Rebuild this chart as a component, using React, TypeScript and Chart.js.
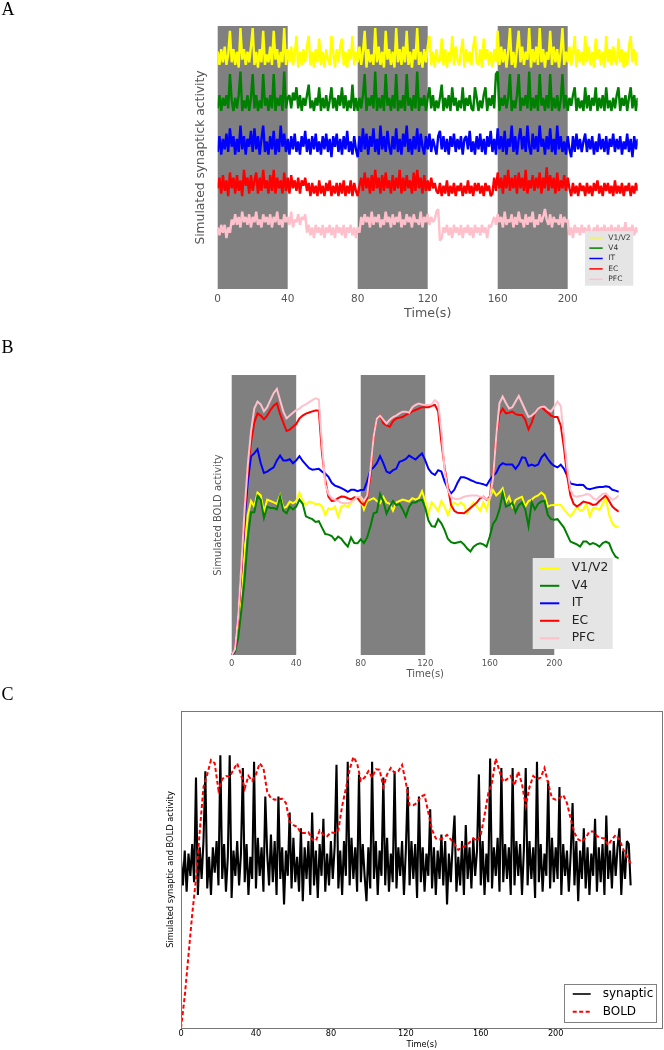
import React, { useEffect, useRef } from "react";
import { Chart, registerables } from "chart.js";
Chart.register(...registerables);

// ---------------- data ----------------
const REGIONS = ["V1/V2", "V4", "IT", "EC", "PFC"];
const REGION_COLORS = ["#ffff00", "#008000", "#0000ff", "#ff0000", "#ffc0cb"];
const STIM_BLOCKS = [[0, 40], [80, 120], [160, 200]];
const TIME_TICKS = [0, 40, 80, 120, 160, 200];
const SYN_DT = 1; // s between synaptic samples
const BOLD_DT = 2; // s between BOLD samples

// Panel A: synaptic traces (deviation) and their vertical offsets
const SYN_OFFSETS = [88.2, 70.7, 55.1, 38.3, 22.4];
const SYN_V1 = [
  2,-3,3,-2,4,-3,1,10,-2,3, -3,2,-4,11,-1,3,-3,2,-2,4, 11,-3,2,-4,3,-2,10,-3,1,-2, 4,-3,10,-1,3,-4,2,-2,11,-3,
  3,-2,4,-3,1,8,-4,2,-3,3, -2,4,8,-3,2,-4,3,-2,7,-3, 2,-4,3,-1,-3,8,2,-4,3,-2, 4,7,-3,2,-4,3,-1,8,-3,2,
  -2,4,-3,2,10,-4,3,-2,1,-3, 11,-2,4,-3,2,-4,10,-1,3,-3, 2,-4,11,-2,3,-3,4,-2,10,-3, 2,-4,3,-1,11,-3,2,-4,3,-2,
  4,8,-3,2,-4,3,-2,-1,7,-3, 3,-4,2,-2,8,-3,4,-1,-3,2, 7,-4,3,-2,2,-3,4,8,-2,-3, 3,-4,7,-1,3,-3,2,-4,3,-2,
  10,-3,4,-2,3,-4,2,11,-3,2, -4,3,10,-2,4,-3,2,-1,11,-4, 3,-2,4,-3,11,-2,3,-4,2,-1, 10,-3,4,-2,3,-4,2,11,-3,2,
  -2,4,-3,1,8,-4,3,-2,2,-3, 8,-2,4,-3,2,-4,7,-1,3,-3, 2,-4,8,-2,3,-3,4,-1,-3,7, -2,3,-4,2,-3,4,8,-2,3,-3,
  2,
];
const SYN_V4 = [
  -2,3,-3,2,-1,3,-2,11,1,-3, 2,-2,3,12,-3,1,-2,3,-3,2, 11,-2,3,-3,1,-2,11,-1,2,-3, 3,-2,11,-3,2,-1,3,-3,12,-2,
  2,3,-2,4,1,6,-2,3,-3,2, -1,3,7,-2,1,-3,2,-1,6,-3, 2,-2,3,-3,1,6,-2,2,-3,3, -1,6,-2,3,-3,1,-2,7,-3,2,
  -3,2,-2,3,11,-3,2,-1,3,-2, 12,-3,2,-2,3,-3,11,-1,2,-3, 3,-2,11,-3,1,-2,3,-3,11,-1, 2,-3,3,-2,12,-3,2,-1,3,-3,
  2,6,-2,3,-3,1,-2,2,7,-3, 2,-2,3,-3,6,-1,2,-3,1,-2, 6,-3,2,-1,3,-2,-3,6,2,-3, 1,-2,3,6,-3,2,-1,3,-2,11,
  12,-3,2,-1,3,-2,2,11,-3,1, -2,3,11,-3,2,-1,3,-2,12,-3, 2,-2,3,-3,11,-1,2,-3,3,-2, 11,-3,2,-2,3,-3,1,11,-2,3,
  -3,2,-1,3,6,-3,2,-2,1,-3, 6,-2,3,-3,2,-1,6,-3,2,-2, 3,-3,6,-2,1,-3,2,-2,3,6, -3,2,-1,3,-3,2,6,-2,3,-3,
  2,
];
const SYN_IT = [
  -3,3,-4,2,-2,4,-3,6,-1,3, -4,2,-3,7,-2,3,-4,2,-1,5, -3,6,-2,3,-4,2,7,-3,1,-4, 3,-2,5,-4,2,-3,7,-1,4,-3,
  2,-4,3,-2,4,-3,1,-4,3,-1, 5,-3,2,-4,3,-2,4,-3,1,-4, 3,-2,4,-3,2,-5,3,-1,4,-3, 2,-4,3,-2,5,-3,1,-4,3,-2,
  -5,3,-3,6,-2,4,-4,3,-1,6, -3,2,-4,7,-2,3,-3,5,-1,-4, 3,-2,6,-3,2,-4,4,-1,7,-3, 2,-4,3,-2,6,-3,4,-1,-4,3,
  -2,4,-3,2,-1,-4,3,5,-2,3, -3,2,-4,3,-1,4,-3,2,-2,3, -4,2,3,-2,5,-3,1,-4,3,-2, 4,-3,2,-4,3,-1,5,-3,2,-4,
  6,-2,3,-3,5,-4,2,-1,7,-3, 3,-4,2,6,-2,3,-3,7,-1,-4, 4,-2,3,-3,7,-1,2,-4,3,-2, 6,-3,2,-4,7,-2,3,-3,1,-4,
  3,-2,-5,3,-3,4,-2,2,-3,1, 4,-3,2,-2,3,-4,1,-3,4,-2, 2,-3,3,-4,2,-1,4,-3,2,-2, 3,-4,1,-2,4,-3,2,-5,3,-2,
  2,
];
const SYN_EC = [
  0,4,-2,5,-1,3,-3,6,0,4, -2,5,-1,3,-3,7,1,4,-2,5, -1,3,6,-2,4,-1,7,0,3,-2, 5,-1,7,-2,4,0,3,-2,6,-1,
  4,-2,5,0,3,-1,4,-2,3,1, 4,-1,2,-3,2,-2,1,-3,3,-2, 1,-3,2,-1,3,-3,1,-2,2,-3, 2,-2,3,-3,1,-2,3,-3,2,-1,
  -3,1,4,-1,6,0,4,-2,5,-1, 7,0,4,-2,5,-1,6,0,3,-2, 5,-1,4,0,7,-2,4,-1,5,0, 3,-2,6,-1,7,0,4,-2,5,-1,
  3,-1,4,0,2,-1,-2,2,-3,1, -2,3,-3,1,-2,2,-3,1,-1,2, -3,1,-2,3,-2,1,-3,2,-1,2, -2,1,-3,2,-1,1,-3,-2,4,-1,
  6,0,4,-2,5,0,7,-1,4,0, 5,-2,6,0,4,-1,7,-2,3,0, 5,-1,4,0,6,-2,4,0,8,-1, 5,0,4,-2,6,-1,3,0,5,-1,
  4,0,-3,2,-2,1,-3,2,-1,1, -3,2,-2,1,-3,2,-1,3,-2,1, -3,2,-1,2,-2,1,-3,3,-2,1, -2,2,-3,1,-1,2,-3,1,-2,2,
  -1,
];
const SYN_PFC = [
  1,-2,2,-1,2,-3,1,-1,4,2, 6,2,5,1,7,3,5,2,6,1, 5,3,7,2,4,1,6,3,5,2, 6,1,5,3,7,2,4,1,6,3,
  5,2,7,1,4,3,6,2,5,4, 6,-1,2,-2,1,-3,2,-1,1,-2, 2,-3,1,-1,2,-2,1,-3,2,-1, 1,-2,2,-3,1,-1,2,-2,1,-3,
  1,-1,5,2,6,3,5,1,7,2, 5,3,6,1,4,2,7,3,5,1, 6,2,5,3,7,1,4,2,6,3, 5,1,6,3,4,2,7,1,5,3,
  6,2,5,3,4,7,8,-4,-3,1, -1,2,-2,1,-3,2,-1,1,-2,2, -3,1,-1,2,-2,1,-3,2,-1,1, -2,2,-1,1,-3,2,1,3,5,2,
  6,3,5,1,7,2,4,3,6,1, 5,2,7,3,4,1,6,2,5,3, 7,1,4,2,6,3,5,8,4,2, 6,1,5,3,4,2,6,1,5,3,
  4,-2,1,-3,2,-1,1,-2,2,-1, 1,-3,2,-1,-2,1,-1,2,-3,1, -1,2,-2,1,-1,2,-3,1,-1,2, -2,1,-1,3,-2,1,-1,2,-2,1,
  -1,
];
const SYN_SERIES = [SYN_V1, SYN_V4, SYN_IT, SYN_EC, SYN_PFC];

// Panel B: BOLD responses (every 2 s)
const BOLD_V1 = [
  0,2,10,24,38,50,55,53,58,57, 51,55.5,55,54.5,54,57,52.5,53,54.8,54.2,
  55,58,55,53.6,54.8,54.5,53.8,54,53,50, 52.4,52,53,49.4,53,53.5,52.8,54.5,55.5,56,
  55.5,52,55,55.5,56,55,54.2,56.5,54.5,54, 51.5,54.5,55,55.5,55.2,54.8,56,55.5,56,58.5,
  55,50.6,54.5,53,51.5,55,53,50,53,54.5, 53.5,54.5,53.5,50.6,53,54.5,53,51.5,54.5,51.8,
  56,58.9,57,58,59.5,54.5,56.5,53,55.4,56, 56.5,53,55,55.5,56.5,57,58,57,53,53.5,
  53.6,53.6,53.6,52,50.6,49.5,51,53,51.5,52, 54,49.5,52.5,52.5,51.8,54,56,50,47,45.8,
  45.8,
];
const BOLD_V4 = [
  0,1,6,16,27,42,51,51,56.8,55.5, 49,53,52.5,52.5,52,56.5,51.5,50.6,53,52,
  53,55.5,54,49.5,49,48.5,47.5,47.8,45.5,43.2, 43,42.5,41,42.3,41.5,40,38.7,42,40,39.9,
  41.3,40,42,46,50.6,51,57.5,54.8,50.5,53, 55,53.5,54,52,49.5,53,54.5,54.5,55.2,55.5,
  52.5,48,46,45.8,48.5,47,44.6,41.5,40.3,39.9, 40.2,40.5,39.5,38,37,38.7,39.5,39.9,39.5,38.7,
  42.3,46.8,48.5,52,57.7,53,53.5,54.5,51,53.5, 54.5,52,46,54.5,52,54,54.8,55,50,48.5,
  48.3,48.5,47,45.5,43,40.5,40,39.5,38.7,40.5, 40.5,39.5,40,39.5,38.7,40,40.5,39.9,37,35.1,
  34.5,
];
const BOLD_IT = [
  0,2,14,30,48,62,71,72,73.5,68.5, 65,65.5,66.3,67,69.5,71.2,69.5,69.5,69.9,68.5,
  69.5,71,69.3,68,66.7,66.2,66.3,66.5,65.5,64.8, 63.6,61.5,60.5,60.1,59.6,59,58.3,59,59,58.5,
  58.9,59,62,66,67,68.5,71,68.5,65.5,65, 66,66.5,69,69.4,70,71.2,70.5,69.8,71,72,
  69.5,66.5,65,64.3,66,65.5,62,59.5,57.7,59, 61.5,63.5,63.5,63.1,62.5,62,61.5,61.3,61,60.5,
  62.5,64,65,67.5,68.5,68,68,68,66.5,68, 70.6,70.4,67.5,68,67.5,68,70.5,71.8,70,68.5,
  67.5,67,68,66.5,64,61.3,61,60.7,60.8,60.7, 59.5,59.2,59.5,59.8,60,60,60.3,60,59,58.7,
  58.3,
];
const BOLD_EC = [
  0,2,13,30,50,66,76,83,86.3,85.5, 84.2,85.5,87.5,89,89.9,86,83,80,80.5,81.5,
  82.5,84.5,85.5,86.2,86.6,87,87.3,87.3,72,62.5, 56.5,55,55.2,56,56.6,56.5,56,55.6,56.3,56,
  54.5,53.5,56,64,78,84.5,85.5,82.7,82,81.5, 83.5,84.5,84.7,85,85.8,86.3,87,87.5,88,88.5,
  88.5,88.5,89,89.3,87,76,67,60,53.5,51.5, 50.8,50.7,50.6,51.5,52.5,53.5,54.5,56,56.5,55.4,
  56.5,64,78,86,88,86.3,86.5,86.9,86,85.7, 85.7,84,80.6,83,86.5,88,88.7,87.5,86.5,85.5,
  85,85,82,74,64,57,54,53,53.8,54.8, 54.5,54.2,53.6,53.8,55,56,57,55,53,52,
  51.2,
];
const BOLD_PFC = [
  0,2,14,32,52,68,80,88,90.5,89.5, 87,88.5,91,93.5,95,91,87,84.5,85.5,86.5,
  87.5,88,89,89.5,90.3,91,91.7,91.3,75,61, 57.5,56,55.4,55,54.4,54.2,54.2,54.6,55.5,56.5,
  56.5,55,57,66,78,84.5,85.5,84,82.7,84, 85,85.5,86.3,86.9,86.9,86.5,88.5,89.3,89.8,89.5,
  89.3,89.3,89.5,91,90,80,66,59,56.5,55.8, 55.6,56,56.5,56.8,57,57,57,56.5,56.5,55.5,
  56,63,78,89.9,92.3,90,88,88.5,90.5,92.5, 90,87.5,85,85.5,86.5,88,88.7,88.7,87.5,87,
  88.7,90.5,89,78,67,59,56.8,56.5,56.8,57, 57.5,57.3,56,55.4,56.5,57.5,57.7,56.5,55.4,56,
  57,
];
const BOLD_SERIES = [BOLD_V1, BOLD_V4, BOLD_IT, BOLD_EC, BOLD_PFC];

// Panel C: one synaptic trace and its BOLD response
const SYN_C_BASE = 51;
const SYN_C = [
  2,-6,5,-8,4,-3,7,-5,28,-9, 6,-4,8,30,-7,3,-9,6,-2,8, -6,35,-4,7,-8,3,35,-10,5,-3, 8,-6,4,31,-5,7,-9,3,-4,33,
  -7,9,-3,6,-8,22,4,-6,10,-5, 8,-9,22,-4,6,-12,5,-3,17,-7, 9,-5,3,-8,12,-11,6,-4,8,-9, 17,-6,5,-10,7,-3,15,-8,4,-6,
  8,-4,6,32,-7,5,-9,8,-3,33, -6,9,-4,6,-8,29,-5,7,-3,-11, 6,-7,33,-4,8,-9,5,-3,28,-6, 9,-8,4,-5,30,-7,6,-3,8,-9,
  5,25,-6,8,-4,7,-10,22,-5,6, -8,4,-3,18,-7,6,-9,5,-4,10, -6,8,-12,4,-5,7,16,-8,3,-6, 8,-9,13,-4,6,-7,9,-3,5,29,
  -6,8,-9,4,-5,34,-7,6,-3,9, -8,31,-5,7,-4,6,-9,31,-6,8, -3,7,-9,5,31,-6,8,-4,6,-10, 33,-5,7,-8,4,-3,27,-7,9,-5,
  6,-4,25,-9,7,-3,5,-8,4,20, -6,8,-11,5,-4,12,-7,6,-9,4, -3,15,-8,6,-5,7,-9,16,-4,5, -7,8,-3,6,12,-9,5,-4,8,7,
  -6,
];
const BOLD_C = [
  0,10,23,36,47,62,76,80,84.5,83.5, 75,78.5,79.5,79.3,81.5,83.5,80,75.5,79.5,78,
  80,83.5,82,74.5,72.5,72,72.2,72.3,71,65, 64,63.5,61.5,61.5,61.8,59.5,59,62.3,61,60.5,
  61.7,61.5,62.5,70,75.5,81.5,85.5,83.5,78,79, 81,79,81.6,81.5,76,80,82,80.5,81,83,
  77.5,70.3,70.3,71,73,73.5,68,62.5,59.8,59.5, 60,60.9,59.5,58,56.2,57,57.5,58.5,59.8,59,
  61,67,74,77.5,85,81,77.7,78.5,79.5,76.5, 80.9,77,70,76,79.5,78.5,79,82,77,72.5,
  72,72.5,73.5,71,66,61.5,59.5,58.8,60,62, 62,60.5,60,59.8,57.7,59.5,60.9,59.5,56.5,54,
  52,
];

// ---------------- helpers ----------------
const FF = '"DejaVu Sans", sans-serif';

function bandsPlugin(blocks: number[][], color: string) {
  return {
    id: "bands",
    beforeDatasetsDraw(chart: any) {
      const { ctx, chartArea: a, scales } = chart;
      const x = scales.x;
      ctx.save();
      ctx.fillStyle = color;
      for (const [s, e] of blocks) {
        const x0 = x.getPixelForValue(s);
        const x1 = x.getPixelForValue(e);
        ctx.fillRect(x0, a.top, x1 - x0, a.bottom - a.top);
      }
      ctx.restore();
    },
  };
}

function framePlugin(color: string) {
  return {
    id: "frame",
    afterDatasetsDraw(chart: any) {
      const { ctx, chartArea: a } = chart;
      ctx.save();
      ctx.strokeStyle = color;
      ctx.lineWidth = 1;
      ctx.strokeRect(Math.round(a.left) + 0.5, Math.round(a.top) + 0.5, Math.round(a.right - a.left) - 1, Math.round(a.bottom - a.top));
      ctx.restore();
    },
  };
}

type LegendSpec = {
  w: number; h: number; mr: number; mb: number;
  l0: number; l1: number; tx: number; row0: number; gap: number;
  fontSize: number; textColor: string; fill: string; stroke?: string; lw: number;
};

function legendPlugin(spec: LegendSpec) {
  return {
    id: "boxLegend",
    afterDraw(chart: any) {
      const { ctx, chartArea: a } = chart;
      const bx = a.right - spec.mr - spec.w;
      const by = a.bottom - spec.mb - spec.h;
      ctx.save();
      ctx.fillStyle = spec.fill;
      ctx.fillRect(bx, by, spec.w, spec.h);
      if (spec.stroke) {
        ctx.strokeStyle = spec.stroke;
        ctx.lineWidth = 1;
        ctx.strokeRect(Math.round(bx) + 0.5, Math.round(by) + 0.5, Math.round(spec.w), Math.round(spec.h));
      }
      ctx.font = `${spec.fontSize}px ${FF}`;
      ctx.textBaseline = "middle";
      ctx.textAlign = "left";
      chart.data.datasets.forEach((ds: any, i: number) => {
        const y = by + spec.row0 + i * spec.gap;
        ctx.beginPath();
        ctx.strokeStyle = ds.legendColor || ds.borderColor;
        ctx.lineWidth = spec.lw;
        ctx.setLineDash(ds.borderDash || []);
        ctx.moveTo(bx + spec.l0, y);
        ctx.lineTo(bx + spec.l1, y);
        ctx.stroke();
        ctx.setLineDash([]);
        ctx.fillStyle = spec.textColor;
        ctx.fillText(ds.label, bx + spec.tx, y);
      });
      ctx.restore();
    },
  };
}

type AxisSpec = {
  xMax: number; xHeight: number; tickSize: number; tickPad: number; tickColor: string;
  titleSize: number; titlePadBottom: number; titleColor: string;
  yTitle: string; yTitleSize: number; yTitlePadTop: number; yWidth: number;
};

function makeScales(s: AxisSpec) {
  return {
    x: {
      type: "linear",
      min: 0,
      max: s.xMax,
      grid: { display: false, drawTicks: false },
      border: { display: false },
      afterBuildTicks: (sc: any) => {
        sc.ticks = TIME_TICKS.map((v) => ({ value: v }));
      },
      ticks: {
        font: { family: FF, size: s.tickSize },
        color: s.tickColor,
        padding: s.tickPad,
        maxRotation: 0,
        autoSkip: false,
        callback: (v: any) => String(v),
      },
      title: {
        display: true,
        text: "Time(s)",
        font: { family: FF, size: s.titleSize },
        color: s.titleColor,
        padding: { top: 0, bottom: s.titlePadBottom },
      },
      afterFit: (sc: any) => {
        sc.height = s.xHeight;
      },
    },
    y: {
      type: "linear",
      min: 0,
      max: 100,
      grid: { display: false, drawTicks: false },
      border: { display: false },
      ticks: { display: false },
      title: {
        display: true,
        text: s.yTitle,
        font: { family: FF, size: s.yTitleSize },
        color: s.titleColor,
        padding: { top: s.yTitlePadTop, bottom: 0 },
      },
      afterFit: (sc: any) => {
        sc.width = s.yWidth;
      },
    },
  };
}

const baseOptions = {
  responsive: false,
  animation: false,
  events: [],
  devicePixelRatio: 1,
};

// ---------------- panel configs ----------------
function configA() {
  const datasets = REGIONS.map((name, k) => ({
    label: name,
    data: SYN_SERIES[k].map((v, i) => ({ x: i * SYN_DT, y: SYN_OFFSETS[k] + v })),
    borderColor: REGION_COLORS[k],
    borderWidth: 2.4,
    borderJoinStyle: "bevel",
    pointRadius: 0,
    tension: 0,
    fill: false,
  }));
  return {
    type: "line",
    data: { datasets },
    options: {
      ...baseOptions,
      layout: { padding: { left: 187.7, right: 26.3, top: 26, bottom: 0 } },
      plugins: { legend: { display: false }, tooltip: { enabled: false } },
      scales: makeScales({
        xMax: 240, xHeight: 41, tickSize: 10.5, tickPad: 3.9, tickColor: "#555",
        titleSize: 12.6, titlePadBottom: 9.1, titleColor: "#555",
        yTitle: "Simulated synaptick activity", yTitleSize: 12.3, yTitlePadTop: 5.6, yWidth: 30,
      }),
    },
    plugins: [
      bandsPlugin(STIM_BLOCKS, "#808080"),
      legendPlugin({ w: 48.3, h: 54.7, mr: 4.4, mb: 3.3, l0: 4.3, l1: 17.7, tx: 23.3, row0: 6.7, gap: 10.4, fontSize: 7.5, textColor: "#333", fill: "#e5e5e5", lw: 1.5 }),
    ],
  };
}

function configB() {
  const datasets = REGIONS.map((name, k) => ({
    label: name,
    data: BOLD_SERIES[k].map((v, i) => ({ x: i * BOLD_DT, y: v })),
    borderColor: REGION_COLORS[k],
    borderWidth: 2,
    pointRadius: 0,
    tension: 0,
    fill: false,
    order: REGIONS.length - k,
  }));
  return {
    type: "line",
    data: { datasets },
    options: {
      ...baseOptions,
      layout: { padding: { left: 211.7, right: 45.2, top: 35, bottom: 0 } },
      plugins: { legend: { display: false }, tooltip: { enabled: false } },
      scales: makeScales({
        xMax: 240, xHeight: 30, tickSize: 8.5, tickPad: 3.2, tickColor: "#555",
        titleSize: 10, titlePadBottom: 4.7, titleColor: "#555",
        yTitle: "Simulated BOLD activity", yTitleSize: 10, yTitlePadTop: 0.6, yWidth: 20,
      }),
    },
    plugins: [
      bandsPlugin(STIM_BLOCKS, "#808080"),
      legendPlugin({ w: 80, h: 91, mr: 6.1, mb: 6, l0: 7.3, l1: 26.6, tx: 39, row0: 10.3, gap: 17.5, fontSize: 12.3, textColor: "#222", fill: "#e5e5e5", lw: 2 }),
    ],
  };
}

function configC() {
  const datasets = [
    {
      label: "synaptic",
      data: SYN_C.map((v, i) => ({ x: i * SYN_DT, y: SYN_C_BASE + v })),
      borderColor: "#000000",
      legendColor: "#333333",
      borderWidth: 2.1,
      borderJoinStyle: "bevel",
      pointRadius: 0,
      tension: 0,
      fill: false,
      order: 2,
    },
    {
      label: "BOLD",
      data: BOLD_C.map((v, i) => ({ x: i * BOLD_DT, y: v })),
      borderColor: "#ff0000",
      borderDash: [4, 2.5],
      borderWidth: 2,
      pointRadius: 0,
      tension: 0,
      fill: false,
      order: 1,
    },
  ];
  return {
    type: "line",
    data: { datasets },
    options: {
      ...baseOptions,
      layout: { padding: { left: 161, right: 1.5, top: 21, bottom: 0 } },
      plugins: { legend: { display: false }, tooltip: { enabled: false } },
      scales: makeScales({
        xMax: 257, xHeight: 22, tickSize: 8.2, tickPad: 1.3, tickColor: "#000",
        titleSize: 8.2, titlePadBottom: 0.1, titleColor: "#000",
        yTitle: "Simulated synaptic and BOLD activity", yTitleSize: 8.3, yTitlePadTop: 5, yWidth: 20,
      }),
    },
    plugins: [
      framePlugin("#777"),
      legendPlugin({ w: 92.4, h: 38.3, mr: 5.8, mb: 5.7, l0: 8.4, l1: 26.4, tx: 38.4, row0: 10, gap: 17.7, fontSize: 12, textColor: "#000", fill: "#ffffff", stroke: "#808080", lw: 2 }),
    ],
  };
}

// ---------------- components ----------------
function ChartCanvas({ top, height, make }: { top: number; height: number; make: () => any }) {
  const ref = useRef<HTMLCanvasElement>(null);
  useEffect(() => {
    const chart = new Chart(ref.current as HTMLCanvasElement, make());
    return () => chart.destroy();
  }, []);
  return (
    <canvas
      ref={ref}
      width={664}
      height={height}
      style={{ position: "absolute", left: 0, top, width: 664, height, display: "block" }}
    />
  );
}

const letterStyle: React.CSSProperties = {
  position: "absolute",
  left: 1.5,
  fontFamily: '"Liberation Serif", "Times New Roman", serif',
  fontSize: 18,
  lineHeight: "18px",
  color: "#000",
};

export default function App() {
  return (
    <div style={{ position: "absolute", left: 0, top: 0, width: 664, height: 1050, background: "#fff", overflow: "hidden" }}>
      <ChartCanvas top={0} height={330} make={configA} />
      <ChartCanvas top={340} height={345} make={configB} />
      <ChartCanvas top={690} height={360} make={configC} />
      <div style={{ ...letterStyle, top: 0 }}>A</div>
      <div style={{ ...letterStyle, top: 338 }}>B</div>
      <div style={{ ...letterStyle, top: 685 }}>C</div>
    </div>
  );
}
